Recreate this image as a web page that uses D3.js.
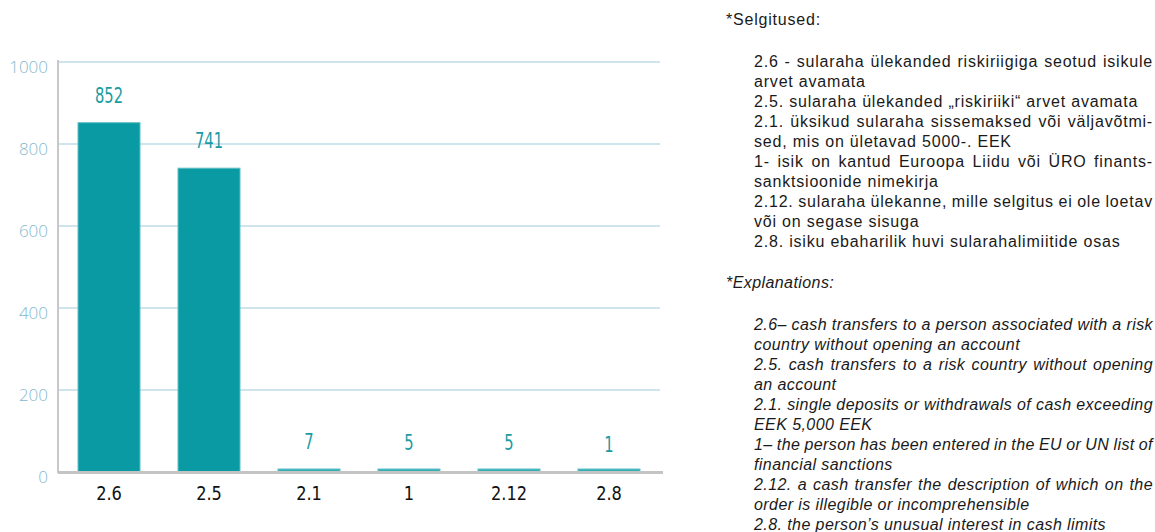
<!DOCTYPE html>
<html><head><meta charset="utf-8">
<script src="https://cdn.jsdelivr.net/npm/d3@7"></script>
<style>
html,body{margin:0;padding:0;background:#fff;}
svg{display:block;}
</style></head>
<body>
<svg id="chart" width="1155" height="532"></svg>
<script>
const categories = ["2.6", "2.5", "2.1", "1", "2.12", "2.8"];
const values = [852, 741, 7, 5, 5, 1];
const yTicks = [0, 200, 400, 600, 800, 1000];
const estHeading = "*Selgitused:";
const estLines = [
  ["2.6 - sularaha ülekanded riskiriigiga seotud isikule", true],
  ["arvet avamata", false],
  ["2.5. sularaha ülekanded „riskiriiki“ arvet avamata", false],
  ["2.1. üksikud sularaha sissemaksed või väljavõtmi-", true],
  ["sed, mis on ületavad 5000-. EEK", false],
  ["1- isik on kantud Euroopa Liidu või ÜRO finants-", true],
  ["sanktsioonide nimekirja", false],
  ["2.12. sularaha ülekanne, mille selgitus ei ole loetav", true],
  ["või on segase sisuga", false],
  ["2.8. isiku ebaharilik huvi sularahalimiitide osas", false]
];
const engHeading = "*Explanations:";
const engLines = [
  ["2.6– cash transfers to a person associated with a risk", true],
  ["country without opening an account", false],
  ["2.5. cash transfers to a risk country without opening", true],
  ["an account", false],
  ["2.1. single deposits or withdrawals of cash exceeding", true],
  ["EEK 5,000 EEK", false],
  ["1– the person has been entered in the EU or UN list of", true],
  ["financial sanctions", false],
  ["2.12. a cash transfer the description of which on the", true],
  ["order is illegible or incomprehensible", false],
  ["2.8. the person’s unusual interest in cash limits", false]
];

const svg = d3.select("#chart");
const pLeft = 58, pRight = 660, pTop = 62, pBottom = 472;

const x = d3.scaleBand().domain(categories).range([pLeft, pRight])
  .paddingInner(0.38).paddingOuter(0.2);
const y = d3.scaleLinear().domain([0, 1000]).range([pBottom, pTop]);

// gridlines
svg.append("g").selectAll("line").data(yTicks.filter(d => d > 0)).join("line")
  .attr("x1", pLeft).attr("x2", pRight)
  .attr("y1", d => y(d)).attr("y2", d => y(d))
  .attr("stroke", "#9fcadb").attr("stroke-width", 1.2);

// y tick labels
svg.append("g").selectAll("text").data(yTicks).join("text")
  .attr("x", 48).attr("y", d => y(d)).attr("dy", "0.62em")
  .attr("text-anchor", "end")
  .attr("font-family", "'Open Sans', 'Noto Sans', sans-serif")
  .attr("font-weight", 300)
  .attr("font-size", 17).attr("fill", "#86b9cd")
  .text(d => d);

// bars
const colors = v => v > 100 ? "#0a9aa3" : "#35aeb6";
svg.append("g").selectAll("rect").data(categories).join("rect")
  .attr("x", d => x(d))
  .attr("width", x.bandwidth())
  .attr("y", (d, i) => Math.min(y(values[i]), pBottom - 3))
  .attr("height", (d, i) => Math.max(pBottom - y(values[i]), 3))
  .attr("fill", (d, i) => colors(values[i]))
  .attr("stroke", "#5fc0c6").attr("stroke-width", 1);

// y axis line
svg.append("line").attr("x1", pLeft).attr("x2", pLeft).attr("y1", pTop - 2).attr("y2", pBottom + 1)
  .attr("stroke", "#c8c8c8").attr("stroke-width", 2);
// baseline
svg.append("line").attr("x1", pLeft).attr("x2", pRight + 3).attr("y1", pBottom + 0.5).attr("y2", pBottom + 0.5)
  .attr("stroke", "#c4c4c4").attr("stroke-width", 3);

// value labels (condensed)
svg.append("g").selectAll("text").data(categories).join("text")
  .attr("transform", (d, i) => `translate(${x(d) + x.bandwidth() / 2},${y(values[i]) - 20}) scale(0.78,1)`)
  .attr("text-anchor", "middle")
  .attr("font-family", "'DejaVu Sans Condensed', 'DejaVu Sans', sans-serif")
  .attr("font-stretch", "condensed")
  .attr("font-size", 21).attr("fill", "#1b9ca5")
  .text((d, i) => values[i]);

// x tick labels
svg.append("g").selectAll("text").data(categories).join("text")
  .attr("transform", d => `translate(${x(d) + x.bandwidth() / 2},500) scale(0.9,1)`)
  .attr("text-anchor", "middle")
  .attr("font-family", "'DejaVu Sans Condensed', 'DejaVu Sans', sans-serif")
  .attr("font-stretch", "condensed")
  .attr("font-size", 20).attr("fill", "#111")
  .text(d => d);

// explanations
const tx = 754, tw = 399;
function block(heading, headY, lines, startY, italic) {
  const g = svg.append("g")
    .attr("font-family", "'Liberation Sans', Arial, sans-serif")
    .attr("font-size", 16).attr("fill", "#1a1a1a")
    .attr("letter-spacing", italic ? 0.42 : 0.8)
    .attr("font-style", italic ? "italic" : "normal");
  g.append("text").attr("x", 726).attr("y", headY).text(heading);
  g.selectAll("text.l").data(lines).join("text").attr("class", "l")
    .attr("x", tx).attr("y", (d, i) => startY + i * 20)
    .text(d => d[0])
    .each(function(d) {
      const w = this.getComputedTextLength();
      const n = (d[0].match(/ /g) || []).length;
      if (d[1] && n > 0) d3.select(this).attr("word-spacing", (tw - w) / n);
      else if (w > tw && n > 0) d3.select(this).attr("word-spacing", (tw - w) / n);
    });
}
block(estHeading, 25, estLines, 67, false);
block(engHeading, 288, engLines, 330, true);
</script>
</body></html>
